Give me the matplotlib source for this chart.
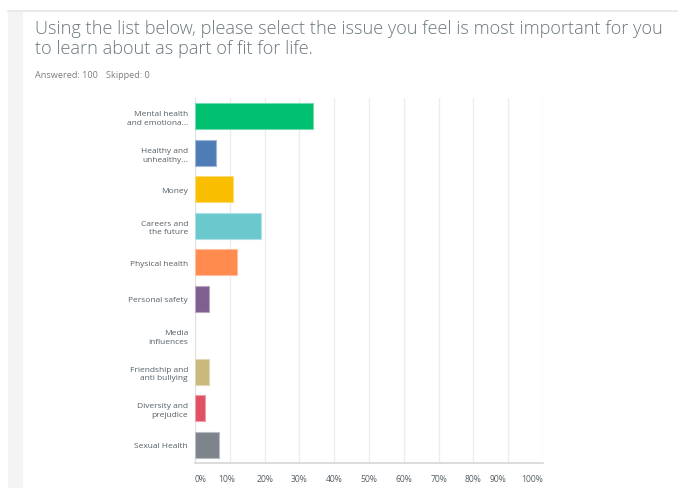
import matplotlib
matplotlib.use("Agg")
import matplotlib.pyplot as plt
import matplotlib.transforms as mtransforms
from matplotlib.patches import Rectangle
import matplotlib.colors as mcolors

categories = ["Mental health\nand emotiona...", "Healthy and\nunhealthy...", "Money",
              "Careers and\nthe future", "Physical health", "Personal safety",
              "Media\ninfluences", "Friendship and\nanti bullying", "Diversity and\nprejudice",
              "Sexual Health"]
values = [34, 6, 11, 19, 12, 4, 0, 4, 3, 7]
colors = ["#00bf6f", "#507cb6", "#f9be00", "#6bc8cd", "#ff8b4f", "#7f5f90",
          "#d25f90", "#c9b97a", "#e05263", "#7d848b"]
ticks = [0, 10, 20, 30, 40, 50, 60, 70, 80, 90, 100]
tick_labels = ["0%", "10%", "20%", "30%", "40%", "50%", "60%", "70%", "80%", "90%", "100%"]
title = "Using the list below, please select the issue you feel is most important for you\nto learn about as part of fit for life."
answered = "Answered: 100"
skipped = "Skipped: 0"

W, H = 678, 489
fig = plt.figure(figsize=(W/100, H/100), dpi=100)
fig.patch.set_facecolor("white")

# page decorations
fig.patches.append(Rectangle((8/W, 0), 15/W, 1 - 12/H, transform=fig.transFigure,
                             facecolor="#f3f4f4", edgecolor="none", zorder=0))
fig.lines.append(plt.Line2D([8/W, 1], [1 - 12/H, 1 - 12/H], transform=fig.transFigure,
                            color="#e6e6e6", lw=1.2))

fig.text(35/W, 1 - 20/H, title, ha="left", va="top", fontsize=13.1, color="#6b787f",
         family="Open Sans", fontweight="light", linespacing=1.12)
fig.text(35/W, 1 - 76/H, answered, ha="left", va="center", fontsize=6.6, color="#7d7d7d",
         family="Open Sans")
fig.text(106/W, 1 - 76/H, skipped, ha="left", va="center", fontsize=6.6, color="#7d7d7d",
         family="Open Sans")

ax = fig.add_axes([195/W, 1 - 464/H, (543 - 195)/W, (464 - 99)/H])
y = list(range(len(categories)))
for i, (v, c) in enumerate(zip(values, colors)):
    edge = mcolors.to_rgb(c)
    edge = tuple(0.55*e + 0.45 for e in edge)
    ax.barh(i, v, height=0.71, color=c, edgecolor=edge,
            linewidth=0.8 if v > 0 else 0, zorder=3)

ax.set_xlim(0, 100)
ax.set_ylim(len(categories) - 0.5, -0.5)
ax.set_yticks(y)
ax.set_yticklabels(categories, fontsize=6.0, color="#555f66", family="Open Sans",
                   linespacing=1.35)
ax.set_xticks(ticks)
ax.set_xticklabels(tick_labels, fontsize=6.2, color="#555f66", family="Open Sans")
ax.tick_params(axis="both", length=0)
ax.tick_params(axis="y", pad=5)
ax.tick_params(axis="x", pad=8)
ax.grid(axis="x", color="#ececec", lw=1, zorder=0)
for s in ["top", "right"]:
    ax.spines[s].set_visible(False)
ax.spines["left"].set_color("#e2e2e2")
ax.spines["bottom"].set_color("#d6d6d6")
ax.spines["bottom"].set_linewidth(1.2)

labels = ax.get_xticklabels()
labels[0].set_ha("left")
labels[-1].set_ha("right")
offs = {1: -3, 9: -10}
for idx, dx in offs.items():
    labels[idx].set_transform(labels[idx].get_transform() +
                              mtransforms.ScaledTranslation(dx/100, 0, fig.dpi_scale_trans))

fig.savefig("out.png", dpi=100, facecolor="white")
